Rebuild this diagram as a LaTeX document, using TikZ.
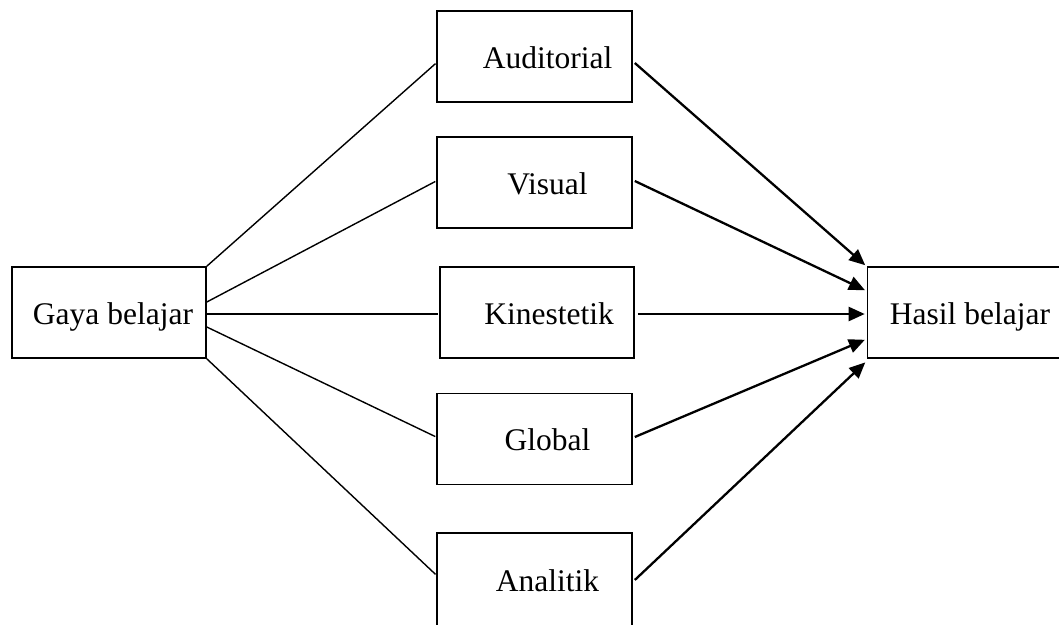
\documentclass[tikz,border=0pt]{standalone}
\usepackage{fontspec}
\setmainfont{Liberation Serif}
\usetikzlibrary{arrows.meta}
\begin{document}
\begin{tikzpicture}[x=1pt,y=-1pt,
  box/.style={draw, line width=1.6pt, minimum width=195pt, minimum height=91pt,
    inner sep=0pt, text height=23pt, text depth=0pt,
    font=\fontsize{31.5}{36}\selectfont},
  link/.style={line width=1.4pt, shorten >=1pt},
  arr/.style={line width=2.3pt, -{Triangle[length=16pt,width=14pt]}, shorten >=2pt}]
\useasboundingbox (0,0) rectangle (1059,624);
% nodes
\node[box, minimum width=194pt] (g)  at (109,312.5) {\hspace*{8pt}Gaya belajar};
\node[box] (h)  at (965,312.5) {\hspace*{10pt}Hasil belajar};
\node[box] (a)  at (534.5,56.5) {\hspace*{26pt}Auditorial};
\node[box] (v)  at (534.5,182.5) {\hspace*{26pt}Visual};
\node[box, minimum width=194pt] (k)  at (537,312.5) {\hspace*{24pt}Kinestetik};
\node[box] (gl) at (534.5,439) {\hspace*{26pt}Global};
\node[box, minimum height=102pt, text height=14pt] (an) at (534.5,584) {\hspace*{26pt}Analitik};
% lines from Gaya belajar
\draw[link] (g.north east) -- ([yshift=-6.5pt]a.west);
\draw[link] ([yshift=10.5pt]g.east) -- ([yshift=1.5pt]v.west);
\draw[link] ([yshift=-1.5pt]g.east) -- ([yshift=-1.5pt]k.west);
\draw[link] ([yshift=-14.5pt]g.east) -- ([yshift=2pt]gl.west);
\draw[link] (g.south east) -- ([yshift=9pt]an.west);
% arrows to Hasil belajar
\draw[arr] ([xshift=2pt,yshift=-6.5pt]a.east) -- ([yshift=46pt]h.west);
\draw[arr] ([xshift=2pt,yshift=1.5pt]v.east) -- ([yshift=21.5pt]h.west);
\draw[arr] ([xshift=3pt,yshift=-1.5pt]k.east) -- ([yshift=-1.5pt]h.west);
\draw[arr] ([xshift=2pt,yshift=2pt]gl.east) -- ([yshift=-26.5pt]h.west);
\draw[arr] ([xshift=2pt,yshift=4pt]an.east) -- ([yshift=-48.5pt]h.west);
\end{tikzpicture}
\end{document}
